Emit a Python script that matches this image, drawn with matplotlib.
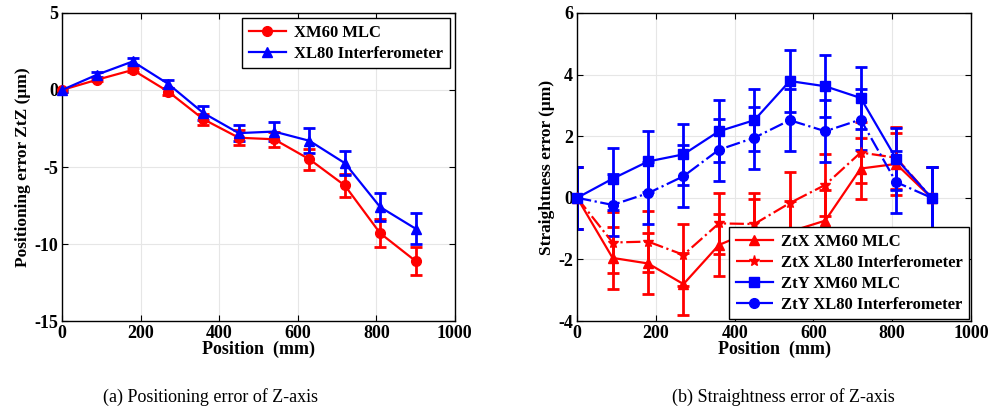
import matplotlib
matplotlib.use("Agg")
import matplotlib.pyplot as plt

# positions along Z (mm)
pos = [0, 90, 180, 270, 360, 450, 540, 630, 720, 810, 900]

# (a) positioning error ZtZ (um)
ztz_xm60 = [0, 0.67, 1.3, -0.1, -1.9, -3.1, -3.2, -4.5, -6.2, -9.3, -11.1]
ztz_xm60_err = [0.1, 0.1, 0.15, 0.2, 0.35, 0.5, 0.5, 0.7, 0.75, 0.9, 0.9]
ztz_xl80 = [0, 1.0, 1.85, 0.4, -1.5, -2.8, -2.7, -3.3, -4.75, -7.6, -9.0]
ztz_xl80_err = [0.1, 0.15, 0.2, 0.25, 0.45, 0.5, 0.6, 0.8, 0.8, 0.9, 1.0]

# (b) straightness error (um)
ztx_xm60 = [0, -1.95, -2.13, -2.8, -1.53, -1.05, -1.1, -0.74, 0.95, 1.1, 0]
ztx_xl80 = [0, -1.45, -1.42, -1.85, -0.83, -0.85, -0.17, 0.42, 1.47, 1.3, 0]
zty_xm60 = [0, 0.62, 1.18, 1.41, 2.16, 2.52, 3.79, 3.62, 3.24, 1.27, 0]
zty_xl80 = [0, -0.23, 0.15, 0.7, 1.56, 1.95, 2.52, 2.16, 2.54, 0.51, 0]
str_err = [1.0] * 11

plt.rcParams["font.family"] = ["Liberation Serif", "DejaVu Serif"]
plt.rcParams["font.weight"] = "bold"
plt.rcParams["axes.labelweight"] = "bold"
plt.rcParams["axes.unicode_minus"] = False

RED = "#ff0000"
BLUE = "#0000ff"

fig = plt.figure(figsize=(10.02, 4.17), dpi=100)
ax1 = fig.add_axes([0.0619, 0.230, 0.392, 0.739])
ax2 = fig.add_axes([0.576, 0.230, 0.393, 0.739])


def series(ax, x, y, err, color, marker, ls, label, ms=7):
    ax.errorbar(x, y, yerr=err, color=color, ls="none", elinewidth=2,
                capsize=4, capthick=2)
    ax.plot(x, y, color=color, marker=marker, ls=ls, lw=1.6, ms=ms,
            label=label, clip_on=False, zorder=3)


series(ax1, pos, ztz_xm60, ztz_xm60_err, RED, "o", "-", "XM60 MLC")
series(ax1, pos, ztz_xl80, ztz_xl80_err, BLUE, "^", "-", "XL80 Interferometer")
ax1.set_ylim(-15, 5)
ax1.set_yticks([-15, -10, -5, 0, 5])
ax1.set_ylabel("Positioning error ZtZ (\u03bcm)", fontsize=12.5, labelpad=2)

series(ax2, pos, ztx_xm60, str_err, RED, "^", "-", "ZtX XM60 MLC")
series(ax2, pos, ztx_xl80, str_err, RED, "*", "-.", "ZtX XL80 Interferometer",
       ms=8)
series(ax2, pos, zty_xm60, str_err, BLUE, "s", "-", "ZtY XM60 MLC")
series(ax2, pos, zty_xl80, str_err, BLUE, "o", "-.", "ZtY XL80 Interferometer")
ax2.set_ylim(-4, 6)
ax2.set_yticks([-4, -2, 0, 2, 4, 6])
ax2.set_ylabel("Straightness error (\u03bcm)", fontsize=12.5, labelpad=2)

for ax in (ax1, ax2):
    ax.set_xlim(0, 1000)
    ax.set_xticks([0, 200, 400, 600, 800, 1000])
    ax.set_xlabel("Position  (mm)", fontsize=13, labelpad=-1)
    ax.grid(True, color="#e6e6e6", lw=0.8)
    ax.set_axisbelow(True)
    ax.tick_params(direction="in", top=True, right=True, length=4,
                   labelsize=13, pad=3)
    for s in ax.spines.values():
        s.set_linewidth(1.0)

leg_kw = dict(fontsize=12, frameon=True, fancybox=False, edgecolor="black",
              framealpha=1, handlelength=2.2, borderpad=0.4, labelspacing=0.3,
              handletextpad=0.5)
l1 = ax1.legend(loc="upper right", borderaxespad=0.3, **leg_kw)
l2 = ax2.legend(loc="lower right", borderaxespad=0.1, **leg_kw)
for lg in (l1, l2):
    lg.get_frame().set_linewidth(1.0)

fig.text(0.210, 0.047, "(a) Positioning error of Z-axis", ha="center",
         va="center", fontsize=13, fontweight="normal")
fig.text(0.782, 0.047, "(b) Straightness error of Z-axis", ha="center",
         va="center", fontsize=13, fontweight="normal")

fig.savefig("out.png", dpi=100)
